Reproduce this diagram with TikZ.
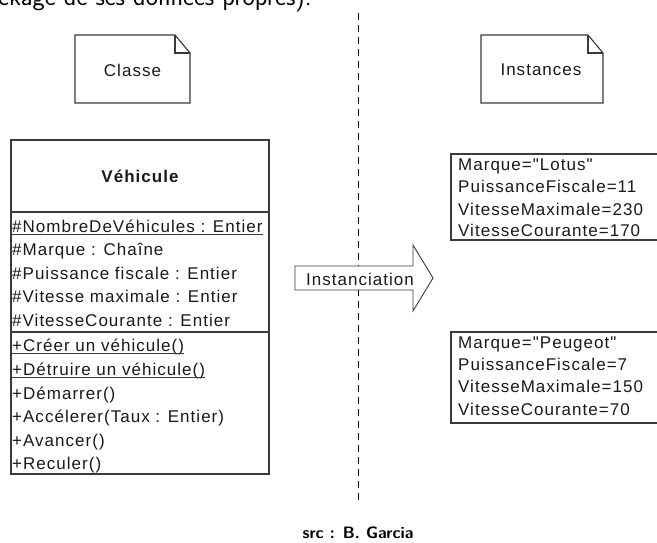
\documentclass[tikz,border=0pt]{standalone}
\usepackage{fontspec}
\newfontfamily\umlfont[LetterSpace=6]{Liberation Sans}
\definecolor{ink}{HTML}{1A1A1A}
\definecolor{edge}{HTML}{3A3A3A}
\tikzset{
  umltext/.style={font=\umlfont\fontsize{17}{20}\selectfont, text=ink, inner sep=0pt, anchor=base west},
  frame/.style={draw=edge, line width=1.1pt, fill=white},
  ulinebar/.style={draw=edge, line width=0.9pt},
  sepline/.style={draw=edge, line width=1.6pt},
  divider/.style={draw=black, dashed, dash pattern=on 7pt off 5pt, line width=0.9pt},
}
\begin{document}
\begin{tikzpicture}[x=1pt, y=-1pt]
\useasboundingbox (0,0) rectangle (657,543);
\clip (0,0) rectangle (657,543);

% running text of the slide, cut by the top edge
\node[font=\sffamily\fontsize{26}{28}\selectfont, inner sep=0pt, anchor=base west] (slidetext) at (-2,6) {ckage de ses données propres).};

% vertical separator between class and instances
\coordinate (divtop) at (358,13);
\coordinate (divbot) at (358,500);
\draw[divider] (divtop) -- (divbot);

% note: Classe
\draw[frame] (75,35) -- (175,35) -- (190,53) -- (190,103) -- (75,103) -- cycle;
\draw[edge, line width=1.1pt] (175,35) -- (175,53) -- (190,53);
\node[umltext, anchor=center] (noteclasse) at (132.5,70) {Classe};

% note: Instances
\draw[frame] (481,35) -- (588,35) -- (603,53) -- (603,103) -- (481,103) -- cycle;
\draw[edge, line width=1.1pt] (588,35) -- (588,53) -- (603,53);
\node[umltext, anchor=center] (noteinst) at (541,70) {Instances};

% class box
\draw[frame] (11,140) rectangle (269,474);
\draw[sepline] (11,212) -- (269,212);
\draw[sepline] (11,332) -- (269,332);
\node[umltext, font=\umlfont\bfseries\fontsize{17}{20}\selectfont, anchor=center] (classname) at (140,176) {Véhicule};

\node[umltext] (a1) at (12,232) {\#NombreDeVéhicules : Entier};
\node[umltext] (a2) at (12,255.5) {\#Marque : Chaîne};
\node[umltext] (a3) at (12,279) {\#Puissance fiscale : Entier};
\node[umltext] (a4) at (12,302.5) {\#Vitesse maximale : Entier};
\node[umltext] (a5) at (12,326) {\#VitesseCourante : Entier};
\draw[ulinebar] ([yshift=-2pt]a1.base west) -- ([yshift=-2pt]a1.base east);

\node[umltext] (m1) at (12,351) {+Créer un véhicule()};
\node[umltext] (m2) at (12,375) {+Détruire un véhicule()};
\node[umltext] (m3) at (12,399) {+Démarrer()};
\node[umltext] (m4) at (12,422.5) {+Accélerer(Taux : Entier)};
\node[umltext] (m5) at (12,446) {+Avancer()};
\node[umltext] (m6) at (12,469) {+Reculer()};
\draw[ulinebar] ([yshift=-2.5pt]m1.base west) -- ([yshift=-2.5pt]m1.base east);
\draw[ulinebar] ([yshift=-2.5pt]m2.base west) -- ([yshift=-2.5pt]m2.base east);

% block arrow: Instanciation
\draw[frame, line width=0.9pt] (295,266) -- (413,266) -- (413,245) -- (433,278) -- (413,311) -- (413,290) -- (295,290) -- cycle;
\node[umltext, anchor=center] (instlabel) at (360,279) {Instanciation};

% instance: Lotus
\draw[frame] (451,154) rectangle (680,240);
\node[umltext] (l1) at (458,171) {Marque="Lotus"};
\node[umltext] (l2) at (458,193) {PuissanceFiscale=11};
\node[umltext] (l3) at (458,215) {VitesseMaximale=230};
\node[umltext] (l4) at (458,236) {VitesseCourante=170};

% instance: Peugeot
\draw[frame] (451,332) rectangle (680,423);
\node[umltext] (p1) at (458,348.5) {Marque="Peugeot"};
\node[umltext] (p2) at (458,370.5) {PuissanceFiscale=7};
\node[umltext] (p3) at (458,392.5) {VitesseMaximale=150};
\node[umltext] (p4) at (458,415) {VitesseCourante=70};

% source line
\node[font=\sffamily\bfseries\fontsize{16.5}{18}\selectfont, inner sep=0pt, anchor=base] (credit) at (358,538) {src : B. Garcia};
\end{tikzpicture}
\end{document}
